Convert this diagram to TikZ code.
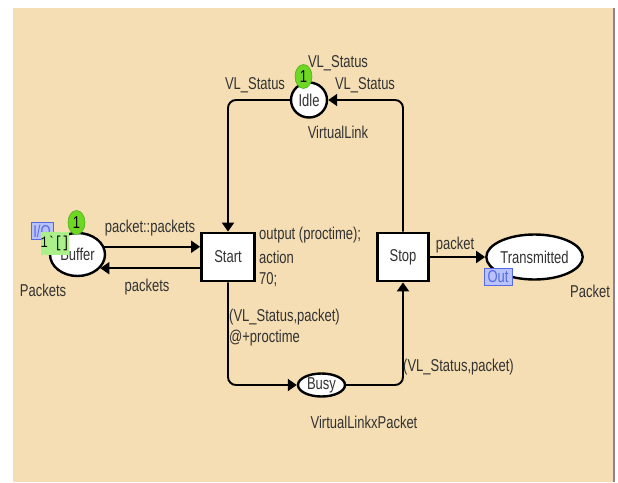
\documentclass[tikz,border=0pt]{standalone}
\usepackage{fontspec}
\setmainfont{Liberation Sans}
\setmonofont{Liberation Mono}
\usepackage{graphicx}
\usetikzlibrary{shapes.geometric,arrows.meta}
\definecolor{bg}{RGB}{245,222,179}
\definecolor{txt}{RGB}{50,50,50}
\definecolor{tokgreen}{RGB}{110,215,35}
\definecolor{tokedge}{RGB}{80,175,25}
\definecolor{lgreen}{RGB}{172,240,140}
\definecolor{lblue}{RGB}{185,195,250}
\definecolor{dblue}{RGB}{85,105,230}
\definecolor{edgegrey}{RGB}{140,130,150}
\newcommand{\vt}[1]{\scalebox{1}[1.32]{#1}}
\begin{document}
\begin{tikzpicture}[x=1pt,y=-1pt,
  font=\fontsize{13}{15}\selectfont,
  every node/.style={text=txt},
  place/.style={ellipse, draw=black, line width=2.4pt, fill=white, inner sep=0pt},
  trans/.style={rectangle, draw=black, line width=2.8pt, fill=white, minimum width=53pt, minimum height=48pt, inner sep=0pt},
  arc/.style={draw=black, line width=1.9pt, rounded corners=8pt, -{Triangle[length=9pt,width=12pt]}},
  lbl/.style={inner sep=0pt},
  token/.style={ellipse, fill=tokgreen, draw=tokedge, line width=0.6pt, minimum width=17pt, minimum height=24pt, inner sep=0pt, text=black},
  port/.style={rectangle, fill=lblue, draw=dblue, line width=1pt, text=dblue, inner sep=0pt},
]
\useasboundingbox (0,0) rectangle (618,482);
\fill[white] (0,0) rectangle (618,482);
\fill[bg] (13,8) rectangle (613,482);
\draw[edgegrey, line width=1.2pt] (614,8) -- (614,482);

% places and transitions
\node[place, minimum width=55pt, minimum height=43pt] (Buffer) at (77.5,254.5) {\vt{Buffer}};
\node[trans] (Start) at (228,257) {\vt{Start}};
\node[trans, minimum width=51pt] (Stop) at (403,257) {\vt{Stop}};
\node[place, minimum width=36pt, minimum height=35pt] (Idle) at (309,100) {\vt{Idle}};
\node[place, minimum width=47pt, minimum height=23pt] (Busy) at (321.5,385) {\vt{Busy}};
\node[place, minimum width=95pt, minimum height=45pt] (Transmitted) at (534.5,257) {\vt{Transmitted}};

% arcs
\draw[arc] (Buffer.16) -- (Buffer.16 -| Start.west);
\draw[arc] (Buffer.-31 -| Start.west) -- (Buffer.-31);
\draw[arc] (Idle.west) -- (Idle.west -| Start.north) -- (Start.north);
\draw[arc] (Stop.north) -- (Stop.north |- Idle.east) -- (Idle.east);
\draw[arc] (Start.south) -- (Start.south |- Busy.west) -- (Busy.west);
\draw[arc] (Busy.east) -- (Busy.east -| Stop.south) -- (Stop.south);
\draw[arc] (Stop.east) -- (Transmitted.west);

% labels
\node[lbl] (vlTop) at (338,63) {\vt{VL\_Status}};
\node[lbl] (vlLeft) at (255,85) {\vt{VL\_Status}};
\node[lbl] (vlRight) at (365,85) {\vt{VL\_Status}};
\node[lbl] (typeIdle) at (338,132) {\vt{VirtualLink}};
\node[lbl] (pp) at (150,228) {\vt{packet::packets}};
\node[lbl] (ps) at (147,287) {\vt{packets}};
\node[lbl] (typeBuffer) at (43,290) {\vt{Packets}};
\node[lbl, anchor=west] (code1) at (259,235) {\vt{output (proctime);}};
\node[lbl, anchor=west] (code2) at (259,257) {\vt{action}};
\node[lbl, anchor=west] (code3) at (259,280) {\vt{70;}};
\node[lbl, anchor=west] (sb1) at (229,317) {\vt{(VL\_Status,packet)}};
\node[lbl, anchor=west] (sb2) at (229,338) {\vt{@+proctime}};
\node[lbl, anchor=west] (bs) at (403,367) {\vt{(VL\_Status,packet)}};
\node[lbl] (typeBusy) at (364,422) {\vt{VirtualLinkxPacket}};
\node[lbl] (pk) at (455,245) {\vt{packet}};
\node[lbl] (typeTrans) at (590,291) {\vt{Packet}};

% port tags, markings, tokens
\node[port, minimum width=22pt, minimum height=17pt] (io) at (42,231) {\vt{I/O}};
\node[rectangle, fill=lgreen, inner sep=0pt, minimum width=28pt, minimum height=23pt, text=black, font=\ttfamily\fontsize{12}{14}\selectfont] (init) at (55,243.5) {\vt{1\char96[]}};
\node[token] (tok1) at (76.5,222.5) {\vt{1}};
\node[token] (tok2) at (303.5,76.5) {\vt{1}};
\node[port, minimum width=28pt, minimum height=17pt] (out) at (498,276.5) {\vt{Out}};
\end{tikzpicture}
\end{document}
